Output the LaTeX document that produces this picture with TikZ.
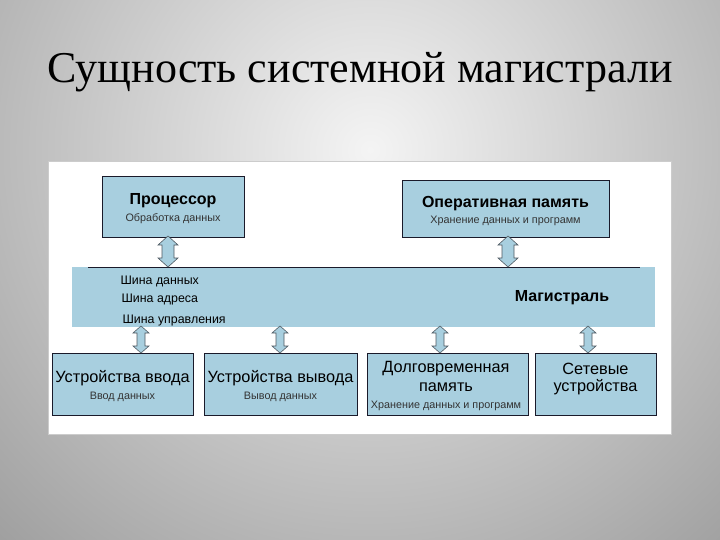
\documentclass[tikz,border=0pt]{standalone}
\usepackage{fontspec}
\setmainfont{Liberation Serif}
\newfontfamily\ar{Liberation Sans}
\definecolor{boxblue}{HTML}{A8CFDF}
\definecolor{bgdark}{HTML}{808080}
\definecolor{bglight}{HTML}{F4F4F4}
\definecolor{edge}{HTML}{1A1A2A}
\definecolor{arrowedge}{HTML}{505A62}
\tikzset{
  x=1pt, y=-1pt,
  unit/.style={draw=edge, line width=0.8pt, fill=boxblue},
  hold/.style={inner sep=0pt},
  dblarrow/.style={fill=boxblue, draw=arrowedge, line width=0.6pt, line join=miter},
  big/.style={font=\ar\bfseries\fontsize{16}{18}\selectfont, text=black},
  small/.style={font=\ar\fontsize{10.8}{12}\selectfont, text=black!80},
  mid/.style={font=\ar\fontsize{16.3}{18}\selectfont, text=black},
  bus/.style={font=\ar\fontsize{12.4}{14}\selectfont, anchor=west, text=black}
}
% \twowayarrow{x}{ytop}{length}{half shaft}{half head}{head length}
\newcommand\twowayarrow[6]{%
  \begin{scope}[shift={(#1,#2)}]
  \draw[dblarrow] (0,0) -- (#5,#6) -- (#4,#6) -- (#4,#3-#6) -- (#5,#3-#6) -- (0,#3)
    -- (-#5,#3-#6) -- (-#4,#3-#6) -- (-#4,#6) -- (-#5,#6) -- cycle;
  \end{scope}}
\begin{document}
\begin{tikzpicture}
\useasboundingbox (0,0) rectangle (720,540);
\fill[bgdark] (0,0) rectangle (720,540);
\begin{scope}
\clip (0,0) rectangle (720,540);
\shade[inner color=bglight, outer color=bgdark] (370,150) circle[radius=740];
\end{scope}
\node[font=\fontsize{44}{47}\selectfont, text=black, anchor=base] (title) at (360,83) {Сущность системной магистрали};
% white panel
\fill[white] (48,161) rectangle (671,434);
\draw[gray!40, line width=0.5pt] (48,161) rectangle (671,434);
% top boxes
\path[unit] (102,176) rectangle (244,237);
\node[hold, minimum width=142pt, minimum height=61pt] (cpu) at (173,206.5) {};
\node[big] at (173,201) {Процессор};
\node[small] at (173,219) {Обработка данных};
\path[unit] (402,180) rectangle (609,237);
\node[hold, minimum width=207pt, minimum height=57pt] (ram) at (505.5,208.5) {};
\node[big] at (505.5,204) {Оперативная память};
\node[small] at (505.5,221) {Хранение данных и программ};
% bus
\fill[boxblue] (72,267) rectangle (655,327);
\node[hold, minimum width=583pt, minimum height=60pt] (bus) at (363.5,297) {};
\draw[edge, line width=0.8pt] (88,267) -- (640,267);
\node[bus] at (117,281) {Шина данных};
\node[bus] at (118,300) {Шина адреса};
\node[bus] at (119,321) {Шина управления};
\node[big] at (562,298) {Магистраль};
% bottom boxes
\path[unit] (52,353) rectangle (193,415);
\node[hold, minimum width=141pt, minimum height=62pt] (in) at (122.5,384) {};
\node[mid] at (122.5,378) {Устройства ввода};
\node[small] at (122.5,397) {Ввод данных};
\path[unit] (204,353) rectangle (357,415);
\node[hold, minimum width=153pt, minimum height=62pt] (out) at (280.5,384) {};
\node[mid] at (280.5,378) {Устройства вывода};
\node[small] at (280.5,397) {Вывод данных};
\path[unit] (367,353) rectangle (528,415);
\node[hold, minimum width=161pt, minimum height=62pt] (hdd) at (447.5,384) {};
\node[mid] at (446,369) {Долговременная};
\node[mid] at (446,387.5) {память};
\node[small] at (446,405.5) {Хранение данных и программ};
\path[unit] (535,353) rectangle (656,415);
\node[hold, minimum width=121pt, minimum height=62pt] (net) at (595.5,384) {};
\node[mid] at (595.5,369) {Сетевые};
\node[mid] at (595.5,387.5) {устройства};
% two-way arrows between the units and the bus
\twowayarrow{168}{236}{31}{6}{10}{9}
\twowayarrow{508}{236}{31}{6}{10}{9}
\twowayarrow{141}{326}{27}{4}{8}{7}
\twowayarrow{280}{326}{27}{4}{8}{7}
\twowayarrow{440}{326}{27}{4}{8}{7}
\twowayarrow{588}{326}{27}{4}{8}{7}
\end{tikzpicture}
\end{document}
